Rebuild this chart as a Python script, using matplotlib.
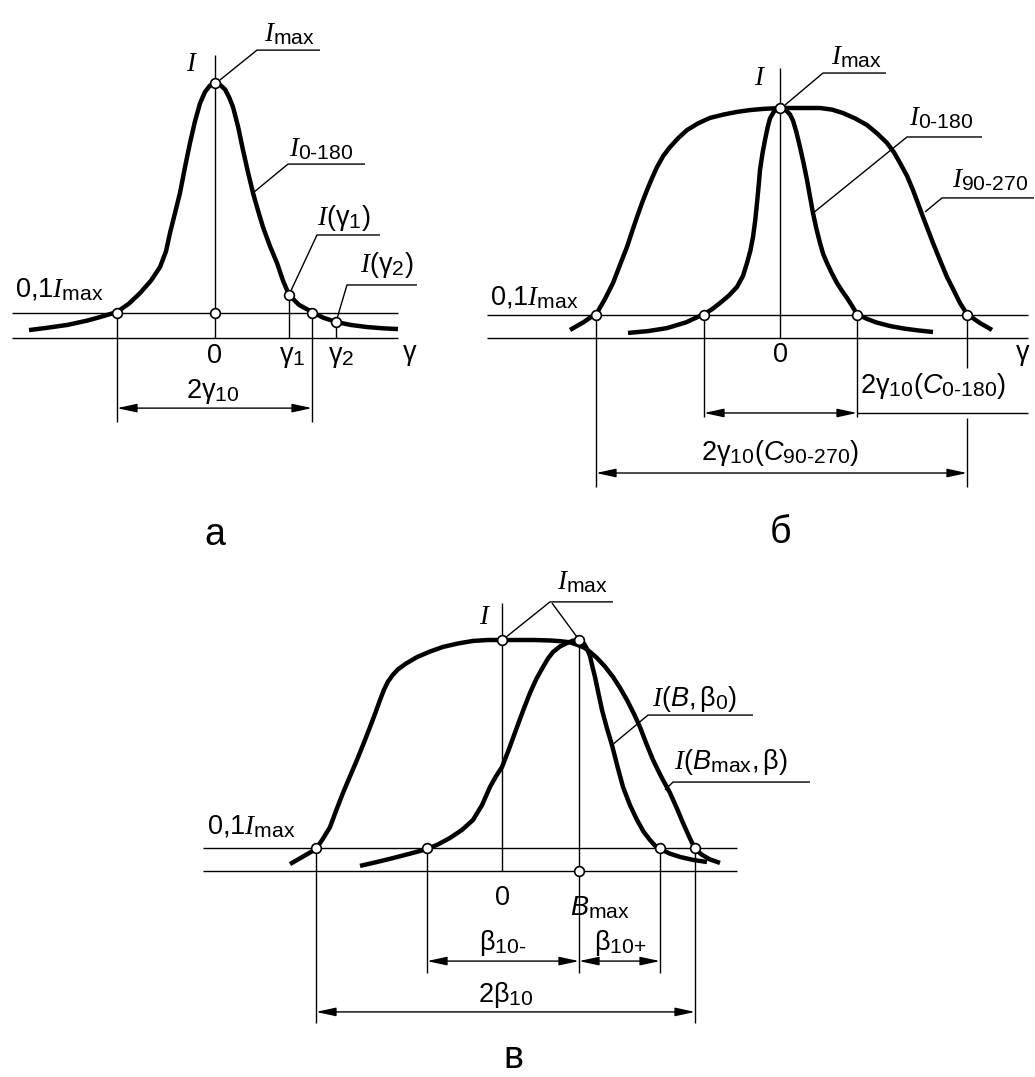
import matplotlib
matplotlib.use("Agg")
import matplotlib.pyplot as plt
from matplotlib.patches import FancyArrowPatch
import matplotlib._mathtext as _mt

_mt.SHRINK_FACTOR = 0.78

plt.rcParams['font.family'] = ['Liberation Sans', 'DejaVu Sans']
plt.rcParams['mathtext.fontset'] = 'custom'
plt.rcParams['mathtext.rm'] = 'Liberation Sans'
plt.rcParams['mathtext.it'] = 'Liberation Serif:italic'
plt.rcParams['mathtext.sf'] = 'Liberation Sans:italic'
plt.rcParams['mathtext.bf'] = 'Liberation Sans:bold'

# ---------------- DATA ----------------
# Panel а : intensity I (relative to Imax) versus angle gamma (arbitrary units)
a_gamma = [-46.5, -42, -37, -32, -28.75, -24.5, -21.5, -18.75, -16, -13.75, -12.25, -11.25, -10,
           -8.75, -7.5, -6.25, -5, -3.75, -2.5, -1.25, 0, 1.25, 2.5, 3.5, 4.5, 5.75, 7, 8.25,
           9.5, 10.75, 12, 13.75, 15.5, 17, 18.5, 21, 24.25, 27, 30.25, 34, 38, 42, 45.75]
a_I = [0.031, 0.04, 0.051, 0.068, 0.082, 0.102, 0.135, 0.176, 0.225, 0.278, 0.34, 0.412, 0.49,
       0.569, 0.67, 0.765, 0.85, 0.92, 0.965, 0.99, 1.0, 0.993, 0.975, 0.945, 0.906, 0.83, 0.737, 0.65,
       0.569, 0.50, 0.435, 0.36, 0.294, 0.225, 0.169, 0.13, 0.102, 0.08, 0.063, 0.051, 0.043, 0.038, 0.035]
a_points_gamma = [0, -24.5, 0, 18.5, 24.25, 30.25]
a_points_I = [1.0, 0.1, 0.1, 0.169, 0.1, 0.063]

# Panel б : curves C0-180 (narrow) and C90-270 (wide)
b_wide_gamma = [-52.5, -49, -45.75, -43.75, -41.75, -40, -38.25, -37, -35.75, -34.5, -33.25, -32,
                -30.75, -29.25, -27.5, -25.5, -23.25, -20.5, -17.5, -14, -10.75, -7.5, -4.25, 0,
                5, 10, 13, 15.75, 18.75, 21.75, 24.25, 26.75, 28.5, 30, 31.75, 33.25, 34.5, 35.75,
                37, 38.25, 40, 41.75, 43.5, 45, 46.75, 50, 53]
b_wide_I = [0.035, 0.07, 0.109, 0.17, 0.239, 0.318, 0.396, 0.462, 0.526, 0.587, 0.643, 0.695,
            0.743, 0.79, 0.830, 0.868, 0.904, 0.933, 0.957, 0.972, 0.983, 0.991, 0.996, 1.0,
            1.0, 1.0, 0.993, 0.978, 0.955, 0.926, 0.89, 0.848, 0.807, 0.761, 0.705, 0.643, 0.585, 0.526,
            0.47, 0.413, 0.338, 0.265, 0.205, 0.152, 0.104, 0.065, 0.035]
b_narrow_gamma = [-38, -33, -28.25, -23.5, -19, -17, -15, -12.75, -10.75, -9.25, -8.25, -7.4, -6.75,
                  -6.2, -5.75, -5.35, -5, -4.4, -3.75, -3.1, -2.5, -1.5, 0, 1.5, 2.5, 3.25, 4.1, 5,
                  5.9, 6.75, 7.5, 8.25, 9.1, 10, 10.8, 11.75, 13, 14.25, 15.5, 16.75, 18, 19.25,
                  21.5, 24, 27.5, 31, 34.5, 38.25]
b_narrow_I = [0.022, 0.03, 0.043, 0.068, 0.104, 0.125, 0.152, 0.185, 0.222, 0.27, 0.326, 0.38, 0.439,
              0.51, 0.587, 0.66, 0.730, 0.80, 0.861, 0.915, 0.955, 0.985, 1.0, 0.99, 0.972, 0.945, 0.895, 0.83,
              0.76, 0.687, 0.615, 0.543, 0.475, 0.413, 0.365, 0.326, 0.28, 0.239, 0.205, 0.174, 0.14, 0.104,
              0.085, 0.068, 0.052, 0.041, 0.033, 0.026]
b_points_gamma = [0, -46, -19, 19.25, 46.75]
b_points_I = [1.0, 0.1, 0.1, 0.1, 0.1]

# Panel в : I(Bmax, beta) (wide) and I(B, beta0) (narrow, peak at Bmax)
c_wide_beta = [-53, -50, -46.5, -44.75, -43, -41.5, -39.75, -38, -36.25, -34.6, -33, -31.75, -30.5,
               -29.5, -28.5, -27.25, -26, -24, -21.25, -18, -14.75, -11, -7.25, -3.5, 0, 4, 8, 12,
               14.5, 17, 19, 20.75, 22.25, 23.75, 25.75, 27.75, 29.5, 31.25, 33, 34.5, 36, 37.75,
               39.75, 42, 43.75, 45.25, 46.75, 48.25, 50, 52, 54.5]
c_wide_I = [0.030, 0.06, 0.095, 0.14, 0.190, 0.26, 0.338, 0.41, 0.481, 0.552, 0.623, 0.68, 0.740,
            0.785, 0.82, 0.85, 0.873, 0.898, 0.926, 0.95, 0.970, 0.985, 0.996, 1.0, 1.0, 1.0, 1.0, 0.998,
            0.995, 0.99, 0.978, 0.965, 0.945, 0.922, 0.885, 0.840, 0.793, 0.740, 0.68, 0.623, 0.555, 0.481,
            0.41, 0.338, 0.27, 0.208, 0.15, 0.095, 0.07, 0.05, 0.035]
c_narrow_beta = [-35.5, -31.5, -27.25, -23, -18.75, -16, -13, -10, -7.25, -5, -3, -1.5, 0, 1.9, 3.75,
                 5.4, 7, 8.6, 10.25, 11.5, 12.75, 14.5, 16.25, 17.75, 19.25, 20.5, 21.3, 22, 22.6,
                 23.25, 24.1, 25, 26.2, 27.5, 28.9, 30.25, 32, 33.75, 35.4, 37, 38.25, 39.5, 42,
                 44.5, 47.75, 51.25]
c_narrow_I = [0.022, 0.038, 0.056, 0.075, 0.095, 0.115, 0.143, 0.178, 0.221, 0.285, 0.364, 0.41, 0.450,
              0.535, 0.623, 0.70, 0.771, 0.832, 0.883, 0.92, 0.948, 0.972, 0.987, 0.997, 1.0, 0.985,
              0.96, 0.93, 0.885, 0.840, 0.77, 0.697, 0.62, 0.545, 0.45, 0.364, 0.285, 0.221, 0.17,
              0.134, 0.11, 0.095, 0.075, 0.061, 0.048, 0.039]
c_B_max = 19.25
c_points_beta = [0, 19.25, -46.5, -18.75, 39.5, 48.25, 19.25]
c_points_I = [1.0, 1.0, 0.1, 0.1, 0.1, 0.1, 0.0]

level = 0.1  # 0,1 Imax

# ---------------- LAYOUT ----------------
W, H = 1035, 1077
fig = plt.figure(figsize=(W / 100, H / 100), dpi=100)

THIN = 1.0
THICK = 3.2
FS = 19.5
FS_PANEL = 27


def panel(x0, base, sx, sy):
    ax = fig.add_axes([0, 0, 1, 1])
    ax.set_xlim((0 - x0) / sx, (W - x0) / sx)
    ax.set_ylim((base - H) / sy, base / sy)
    ax.axis('off')
    ax.patch.set_alpha(0)
    return ax


def line(ax, xs, ys, lw=THIN):
    ax.plot(xs, ys, color='k', lw=lw, solid_capstyle='butt')


def curve(ax, xs, ys):
    ax.plot(xs, ys, color='k', lw=THICK, solid_capstyle='butt', solid_joinstyle='round', zorder=3)


def circles(ax, xs, ys):
    ax.plot(xs, ys, 'o', ms=7, mfc='white', mec='k', mew=1.2, zorder=6)


def dim(ax, x1, x2, y):
    ar = FancyArrowPatch((x1, y), (x2, y), arrowstyle='<|-|>,head_length=0.6,head_width=0.13',
                         mutation_scale=20, color='k', lw=THIN, shrinkA=0, shrinkB=0)
    ax.add_patch(ar)


def txt(ax, x, y, s, ha='left', va='center', fs=FS):
    ax.text(x, y, s, ha=ha, va=va, fontsize=fs, color='k')


IMAX = r'$I_{\mathrm{max}}$'
LVL = r'0,1$I_{\mathrm{max}}$'

# ---------- Panel а ----------
ax = panel(215, 338, 4.0, 255.0)
line(ax, [-50.75, 45.75], [level, level])
line(ax, [-50.75, 45.75], [0, 0])
line(ax, [0, 0], [0, 1.11])
line(ax, [-24.5, -24.5], [level, -0.33])
line(ax, [24.25, 24.25], [level, -0.33])
line(ax, [18.5, 18.5], [0.169, 0])
line(ax, [30.25, 30.25], [0.063, 0])
curve(ax, a_gamma, a_I)
circles(ax, a_points_gamma, a_points_I)
dim(ax, -24.5, 24.25, -0.275)
line(ax, [1.25, 10.5, 26.25], [1.012, 1.129, 1.129])
line(ax, [9.5, 18.25, 37.5], [0.569, 0.682, 0.682])
line(ax, [18.5, 25.5, 41.25], [0.169, 0.404, 0.404])
line(ax, [30.25, 33.0, 50.5], [0.063, 0.208, 0.208])
txt(ax, 12.25, 1.19, IMAX)
txt(ax, 18.5, 0.74, r'$I_{\text{0-180}}$')
txt(ax, 25.5, 0.47, r'$I(\mathrm{γ}_{1})$')
txt(ax, 36.25, 0.285, r'$I(\mathrm{γ}_{2})$')
txt(ax, -50.0, 0.19, LVL)
txt(ax, -5.8, 1.075, r'$I$', ha='center')
txt(ax, 0, -0.07, '0', ha='center')
txt(ax, 19.25, -0.075, r'$\mathrm{γ}_{1}$', ha='center')
txt(ax, 31.5, -0.075, r'$\mathrm{γ}_{2}$', ha='center')
txt(ax, 48.75, -0.065, r'$\mathrm{γ}$', ha='center')
txt(ax, -0.5, -0.21, r'$\mathrm{2γ}_{10}$', ha='center')
txt(ax, 0, -0.812, 'а', ha='center', va='baseline', fs=FS_PANEL)

# ---------- Panel б ----------
ax = panel(780, 338, 4.0, 230.0)
line(ax, [-73.25, 62], [level, level])
line(ax, [-73.25, 62], [0, 0])
line(ax, [0, 0], [0, 1.174])
line(ax, [-46, -46], [level, -0.648])
line(ax, [-19, -19], [level, -0.343])
line(ax, [19.25, 19.25], [level, -0.343])
line(ax, [46.75, 46.75], [level, -0.13])
line(ax, [46.75, 46.75], [-0.348, -0.648])
curve(ax, b_wide_gamma, b_wide_I)
curve(ax, b_narrow_gamma, b_narrow_I)
circles(ax, b_points_gamma, b_points_I)
dim(ax, -19, 19.25, -0.326)
line(ax, [19.25, 62], [-0.326, -0.326])
dim(ax, -46, 46.75, -0.587)
line(ax, [1.25, 10.75, 26.5], [1.013, 1.152, 1.152])
line(ax, [8.25, 31.75, 50.5], [0.543, 0.874, 0.874])
line(ax, [36.25, 40.5, 63.5], [0.548, 0.609, 0.609])
txt(ax, 12.75, 1.22, IMAX)
txt(ax, 32.25, 0.955, r'$I_{\text{0-180}}$')
txt(ax, 43.0, 0.685, r'$I_{\text{90-270}}$')
txt(ax, -72.5, 0.175, LVL)
txt(ax, -5.0, 1.13, r'$I$', ha='center')
txt(ax, 0, -0.075, '0', ha='center')
txt(ax, 60.75, -0.072, r'$\mathrm{γ}$', ha='center')
txt(ax, 20.0, -0.21, r'$\mathrm{2γ}_{10}\mathrm{(}\mathsf{C}_{\text{0-180}}\mathrm{)}$')
txt(ax, 0, -0.5, r'$\mathrm{2γ}_{10}\mathrm{(}\mathsf{C}_{\text{90-270}}\mathrm{)}$', ha='center')
txt(ax, 0, -0.891, 'б', ha='center', va='baseline', fs=FS_PANEL)

# ---------- Panel в ----------
ax = panel(502, 871, 4.0, 231.0)
line(ax, [-74.75, 58.75], [level, level])
line(ax, [-74.75, 58.75], [0, 0])
line(ax, [0, 0], [0, 1.16])
line(ax, [c_B_max, c_B_max], [1.0, -0.442])
line(ax, [-46.5, -46.5], [level, -0.658])
line(ax, [-18.75, -18.75], [level, -0.442])
line(ax, [39.5, 39.5], [level, -0.442])
line(ax, [48.25, 48.25], [level, -0.658])
curve(ax, c_wide_beta, c_wide_I)
curve(ax, c_narrow_beta, c_narrow_I)
circles(ax, c_points_beta, c_points_I)
dim(ax, -18.75, c_B_max, -0.39)
dim(ax, c_B_max, 39.5, -0.39)
dim(ax, -46.5, 48.25, -0.61)
line(ax, [0.75, 12, 27.75], [1.009, 1.165, 1.165])
line(ax, [12.5, 18.75], [1.16, 1.013])
line(ax, [27.5, 36.5, 62.75], [0.545, 0.675, 0.675])
line(ax, [40.75, 42.75, 77.0], [0.351, 0.385, 0.385])
txt(ax, 13.75, 1.25, IMAX)
txt(ax, 37.5, 0.745, r'$I(\mathsf{B}, \mathrm{β}_{0})$')
txt(ax, 43.0, 0.47, r'$I(\mathsf{B}_{\mathrm{max}}, \mathrm{β})$')
txt(ax, -73.75, 0.19, LVL)
txt(ax, -4.25, 1.1, r'$I$', ha='center')
txt(ax, 0, -0.117, '0', ha='center')
txt(ax, 17.0, -0.16, r'$\mathsf{B}_{\mathrm{max}}$')
txt(ax, 0.25, -0.31, r'$\mathrm{β}_{\text{10-}}$', ha='center')
txt(ax, 29.5, -0.31, r'$\mathrm{β}_{\text{10+}}$', ha='center')
txt(ax, 1.0, -0.535, r'$\mathrm{2β}_{10}$', ha='center')
txt(ax, 2.75, -0.853, 'в', ha='center', va='baseline', fs=FS_PANEL)

fig.savefig('out.png', dpi=100, facecolor='white')
